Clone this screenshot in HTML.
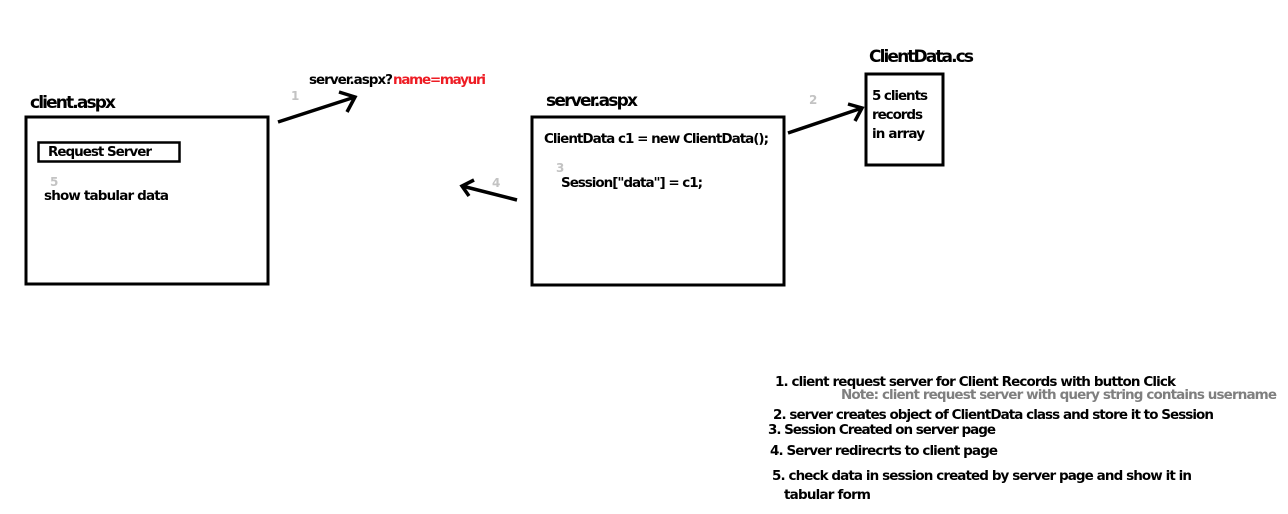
<!DOCTYPE html>
<html><head><meta charset="utf-8"><style>
html,body{margin:0;padding:0;background:#fff;}
svg{display:block;}
text{font-family:"DejaVu Sans","Liberation Sans",sans-serif;font-weight:bold;}
</style></head><body>
<svg width="1288" height="514" viewBox="0 0 1288 514" xmlns="http://www.w3.org/2000/svg">
<g fill="none" stroke="#000" stroke-width="3">
<rect x="26" y="117" width="242" height="167"/>
<rect x="38.5" y="142.5" width="141" height="19" stroke-width="2.5"/>
<rect x="532" y="117" width="252" height="168"/>
<rect x="866" y="74" width="77" height="91"/>
<polyline points="278,122 355,97" stroke-width="3.5"/>
<polyline points="339,92 355,97 347,112" stroke-width="3.5"/>
<polyline points="788,133 862,108" stroke-width="3.5"/>
<polyline points="848,104 862,108 855,121" stroke-width="3.5"/>
<polyline points="517,200 462,186" stroke-width="3.5"/>
<polyline points="474,180 462,186 469,196" stroke-width="3.5"/>
</g>
<g fill="#000">
<text x="30" y="108" font-size="17" textLength="86">client.aspx</text>
<text x="546" y="106" font-size="17" textLength="92">server.aspx</text>
<text x="869" y="62" font-size="17" textLength="105">ClientData.cs</text>
<text x="48" y="156" font-size="13.5" textLength="104">Request Server</text>
<text x="44" y="200" font-size="13.5" textLength="125">show tabular data</text>
<text x="309" y="84" font-size="13.5" textLength="84">server.aspx?</text>
<text x="393" y="84" font-size="13.5" fill="#ee1c24" textLength="93">name=mayuri</text>
<text x="544" y="143" font-size="13.5" textLength="225">ClientData c1 = new ClientData();</text>
<text x="561" y="187" font-size="13.5" textLength="142">Session["data"] = c1;</text>
<text x="872" y="100" font-size="13.5" textLength="56">5 clients</text>
<text x="872" y="119" font-size="13.5" textLength="51">records</text>
<text x="872" y="138" font-size="13.5" textLength="53">in array</text>
<text x="775" y="386" font-size="13.5" textLength="401">1. client request server for Client Records with button Click</text>
<text x="841" y="399" font-size="13.5" fill="#7f7f7f" textLength="436">Note: client request server with query string contains username</text>
<text x="773" y="419" font-size="13.5" textLength="441">2. server creates object of ClientData class and store it to Session</text>
<text x="768" y="434" font-size="13.5" textLength="228">3. Session Created on server page</text>
<text x="770" y="455" font-size="13.5" textLength="228">4. Server redirecrts to client page</text>
<text x="772" y="480" font-size="13.5" textLength="420">5. check data in session created by server page and show it in</text>
<text x="784" y="499" font-size="13.5" textLength="87">tabular form</text>
</g>
<g fill="#c3c3c3" font-size="12">
<text x="291" y="100">1</text>
<text x="809" y="104">2</text>
<text x="556" y="172">3</text>
<text x="492" y="187">4</text>
<text x="50" y="186">5</text>
</g>
</svg>
</body></html>
